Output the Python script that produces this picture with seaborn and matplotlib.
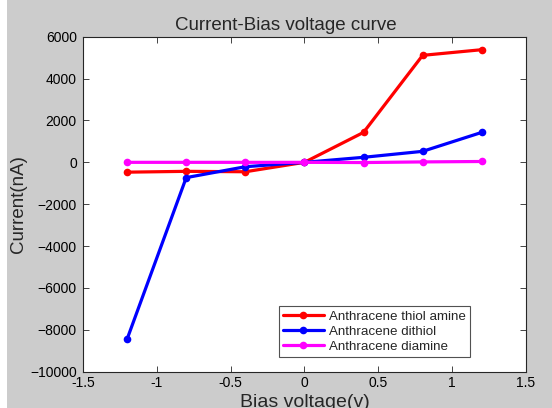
import numpy as np
import pandas as pd
import matplotlib
matplotlib.use('Agg')
import matplotlib.pyplot as plt
import seaborn as sns

# data
bias = [-1.2, -0.8, -0.4, 0.0, 0.4, 0.8, 1.2]
thiol_amine = [-470, -430, -450, 0, 1430, 5110, 5380]
dithiol = [-8440, -730, -210, 0, 240, 525, 1430]
diamine = [0, 0, 0, 0, -10, 20, 40]

series = ['Anthracene thiol amine', 'Anthracene dithiol', 'Anthracene diamine']
colors = ['#ff0000', '#0000ff', '#ff00ff']

x_ticks = [-1.5, -1, -0.5, 0, 0.5, 1, 1.5]
x_labels = ['-1.5', '-1', '-0.5', '0', '0.5', '1', '1.5']
y_ticks = [-10000, -8000, -6000, -4000, -2000, 0, 2000, 4000, 6000]

df = pd.DataFrame({
    'Bias': bias * 3,
    'Current': thiol_amine + dithiol + diamine,
    'Series': [s for s in series for _ in bias],
})

sns.set_style('ticks')
plt.rcParams['font.family'] = ['Liberation Sans', 'DejaVu Sans']

fig = plt.figure(figsize=(5.52, 4.08), dpi=100, facecolor='#cccccc')
# thin white margin on the left edge, as in the screenshot
fig.patches.append(plt.Rectangle((0, 0), 7 / 552, 1, transform=fig.transFigure,
                                 facecolor='white', edgecolor='none', zorder=0))
ax = fig.add_axes([0.150, 0.089, 0.803, 0.821])
ax.set_facecolor('white')

sns.lineplot(data=df, x='Bias', y='Current', hue='Series', palette=colors,
             hue_order=series, marker='o', markersize=5.5, markeredgewidth=0,
             linewidth=2.3, ax=ax, sort=False)

ax.set_xlim(-1.5, 1.5)
ax.set_ylim(-10000, 6000)
ax.set_xticks(x_ticks)
ax.set_xticklabels(x_labels)
ax.set_yticks(y_ticks)
ax.tick_params(direction='in', top=True, right=True, labelsize=10, length=4,
               width=0.6, colors='#262626', labelcolor='black')
ax.tick_params(axis='y', pad=4.3)
ax.tick_params(axis='x', pad=3)
for sp in ax.spines.values():
    sp.set_visible(True)
    sp.set_linewidth(0.8)
    sp.set_color('#262626')

ax.set_title('Current-Bias voltage curve', fontsize=13.5, pad=5, x=0.458)
ax.set_xlabel('Bias voltage(v)', fontsize=14, labelpad=3)
ax.set_ylabel('Current(nA)', fontsize=13.5, labelpad=2)

leg = ax.legend(loc='lower right', bbox_to_anchor=(0.874, 0.0445), fontsize=9.6,
                frameon=True, fancybox=False, edgecolor='#262626',
                handlelength=3.1, borderpad=0.3, labelspacing=0.2,
                handletextpad=0.4, borderaxespad=0)
leg.get_frame().set_linewidth(0.8)

fig.savefig('out.png', dpi=100, facecolor=fig.get_facecolor())
